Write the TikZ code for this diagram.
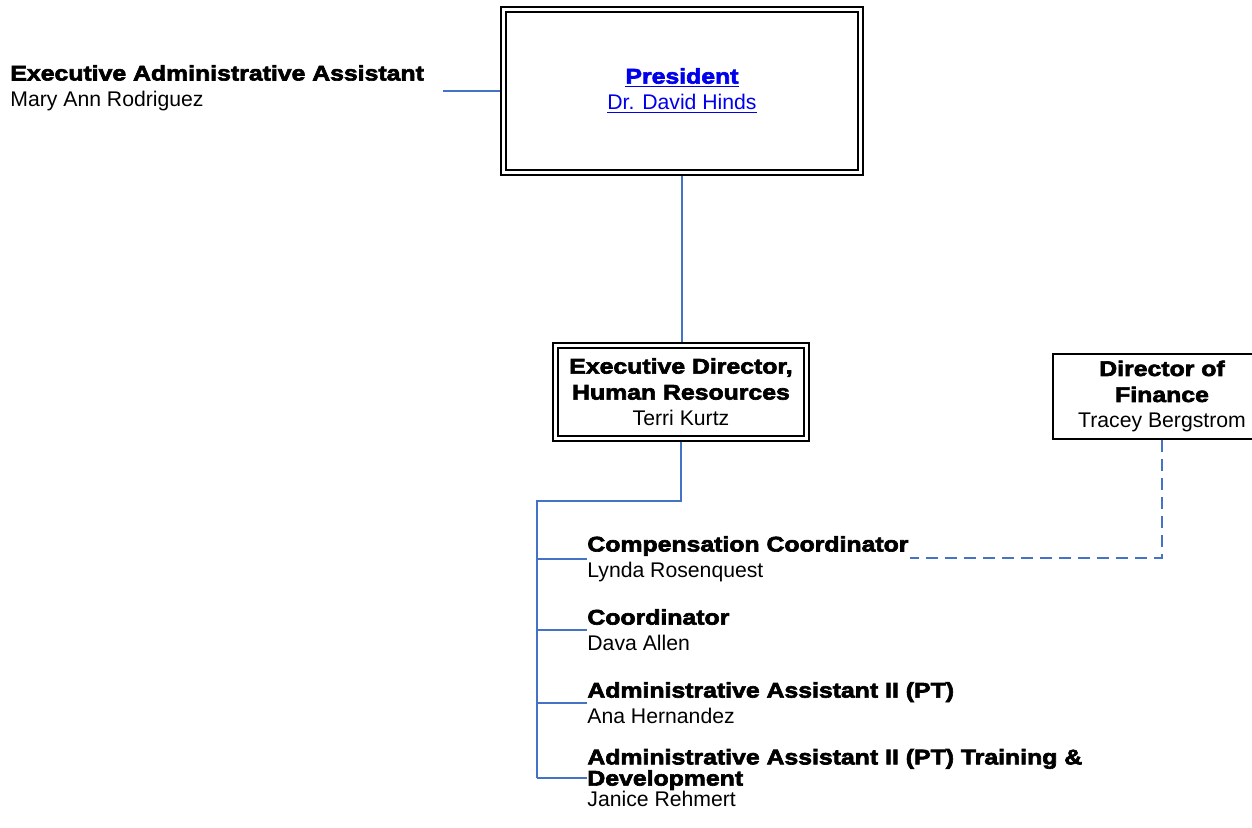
\documentclass[tikz,border=0pt]{standalone}
\usepackage{fontspec}
\setmainfont{Liberation Sans}
\newfontfamily\titlefont{Liberation Sans}[FakeStretch=1.17, BoldFeatures={FakeBold=3}]
\usetikzlibrary{positioning,backgrounds}
\definecolor{linkblue}{RGB}{0,0,235}
\definecolor{orgblue}{RGB}{68,114,196}
\newcommand{\ttl}[1]{{\titlefont\bfseries #1}}

\begin{document}
\begin{tikzpicture}[x=0.5pt, y=-0.5pt, font=\fontsize{10.6}{13}\selectfont,
  dbox/.style={draw, double, line width=1pt, double distance=1.5pt, align=center, inner sep=0pt},
  sbox/.style={draw, line width=1pt, align=center, inner sep=0pt},
  leaf/.style={anchor=west, align=left, inner sep=0pt},
  conn/.style={orgblue, line width=0.7pt}]
\clip (0,0) rectangle (1252,827);

\node [dbox, minimum width=178.5pt, minimum height=81.25pt, text=linkblue] (pres) at (682,91)
  {\underline{\ttl{President}}\\\underline{Dr. David Hinds}};
\node [leaf] (eaa) at (10,88) {\ttl{Executive Administrative Assistant}\\Mary Ann Rodriguez};
\coordinate (eaa-end) at (443,91);

\node [dbox, minimum width=125.5pt, minimum height=46.5pt] (hr) at (681,392)
  {\ttl{Executive Director,}\\\ttl{Human Resources}\\Terri Kurtz};
\node [sbox, minimum width=109pt, minimum height=42.5pt] (fin) at (1162,396.5)
  {\ttl{Director of}\\\ttl{Finance}\\Tracey Bergstrom};

\node [leaf] (comp) at (587,559) {\ttl{Compensation Coordinator}\\Lynda Rosenquest};
\node [leaf] (coord) at (587,630) {\ttl{Coordinator}\\Dava Allen};
\node [leaf] (aa) at (587,703) {\ttl{Administrative Assistant II (PT)}\\Ana Hernandez};
\node [leaf, font=\fontsize{10.6}{10.6}\selectfont] (aatd) at (587,778)
  {\ttl{Administrative Assistant II (PT) Training \&}\\\ttl{Development}\\Janice Rehmert};
\coordinate (bus) at (537,501);
\coordinate (comp-end) at (910,558);

\begin{scope}[on background layer]
\draw[conn] (eaa-end) -- (pres.west |- eaa-end);
\draw[conn] (pres.south) -- (pres.south |- hr.north);
\draw[conn] (hr.south) |- (bus) -- (bus |- 0,778);
\draw[conn] (bus |- 0,559) -- (comp.west);
\draw[conn] (bus |- 0,630) -- (coord.west);
\draw[conn] (bus |- 0,703) -- (aa.west);
\draw[conn] (bus |- 0,778) -- (587,778);
\draw[conn, dash pattern=on 6pt off 3.5pt] (fin.south) |- (comp-end);
\end{scope}
\end{tikzpicture}
\end{document}
